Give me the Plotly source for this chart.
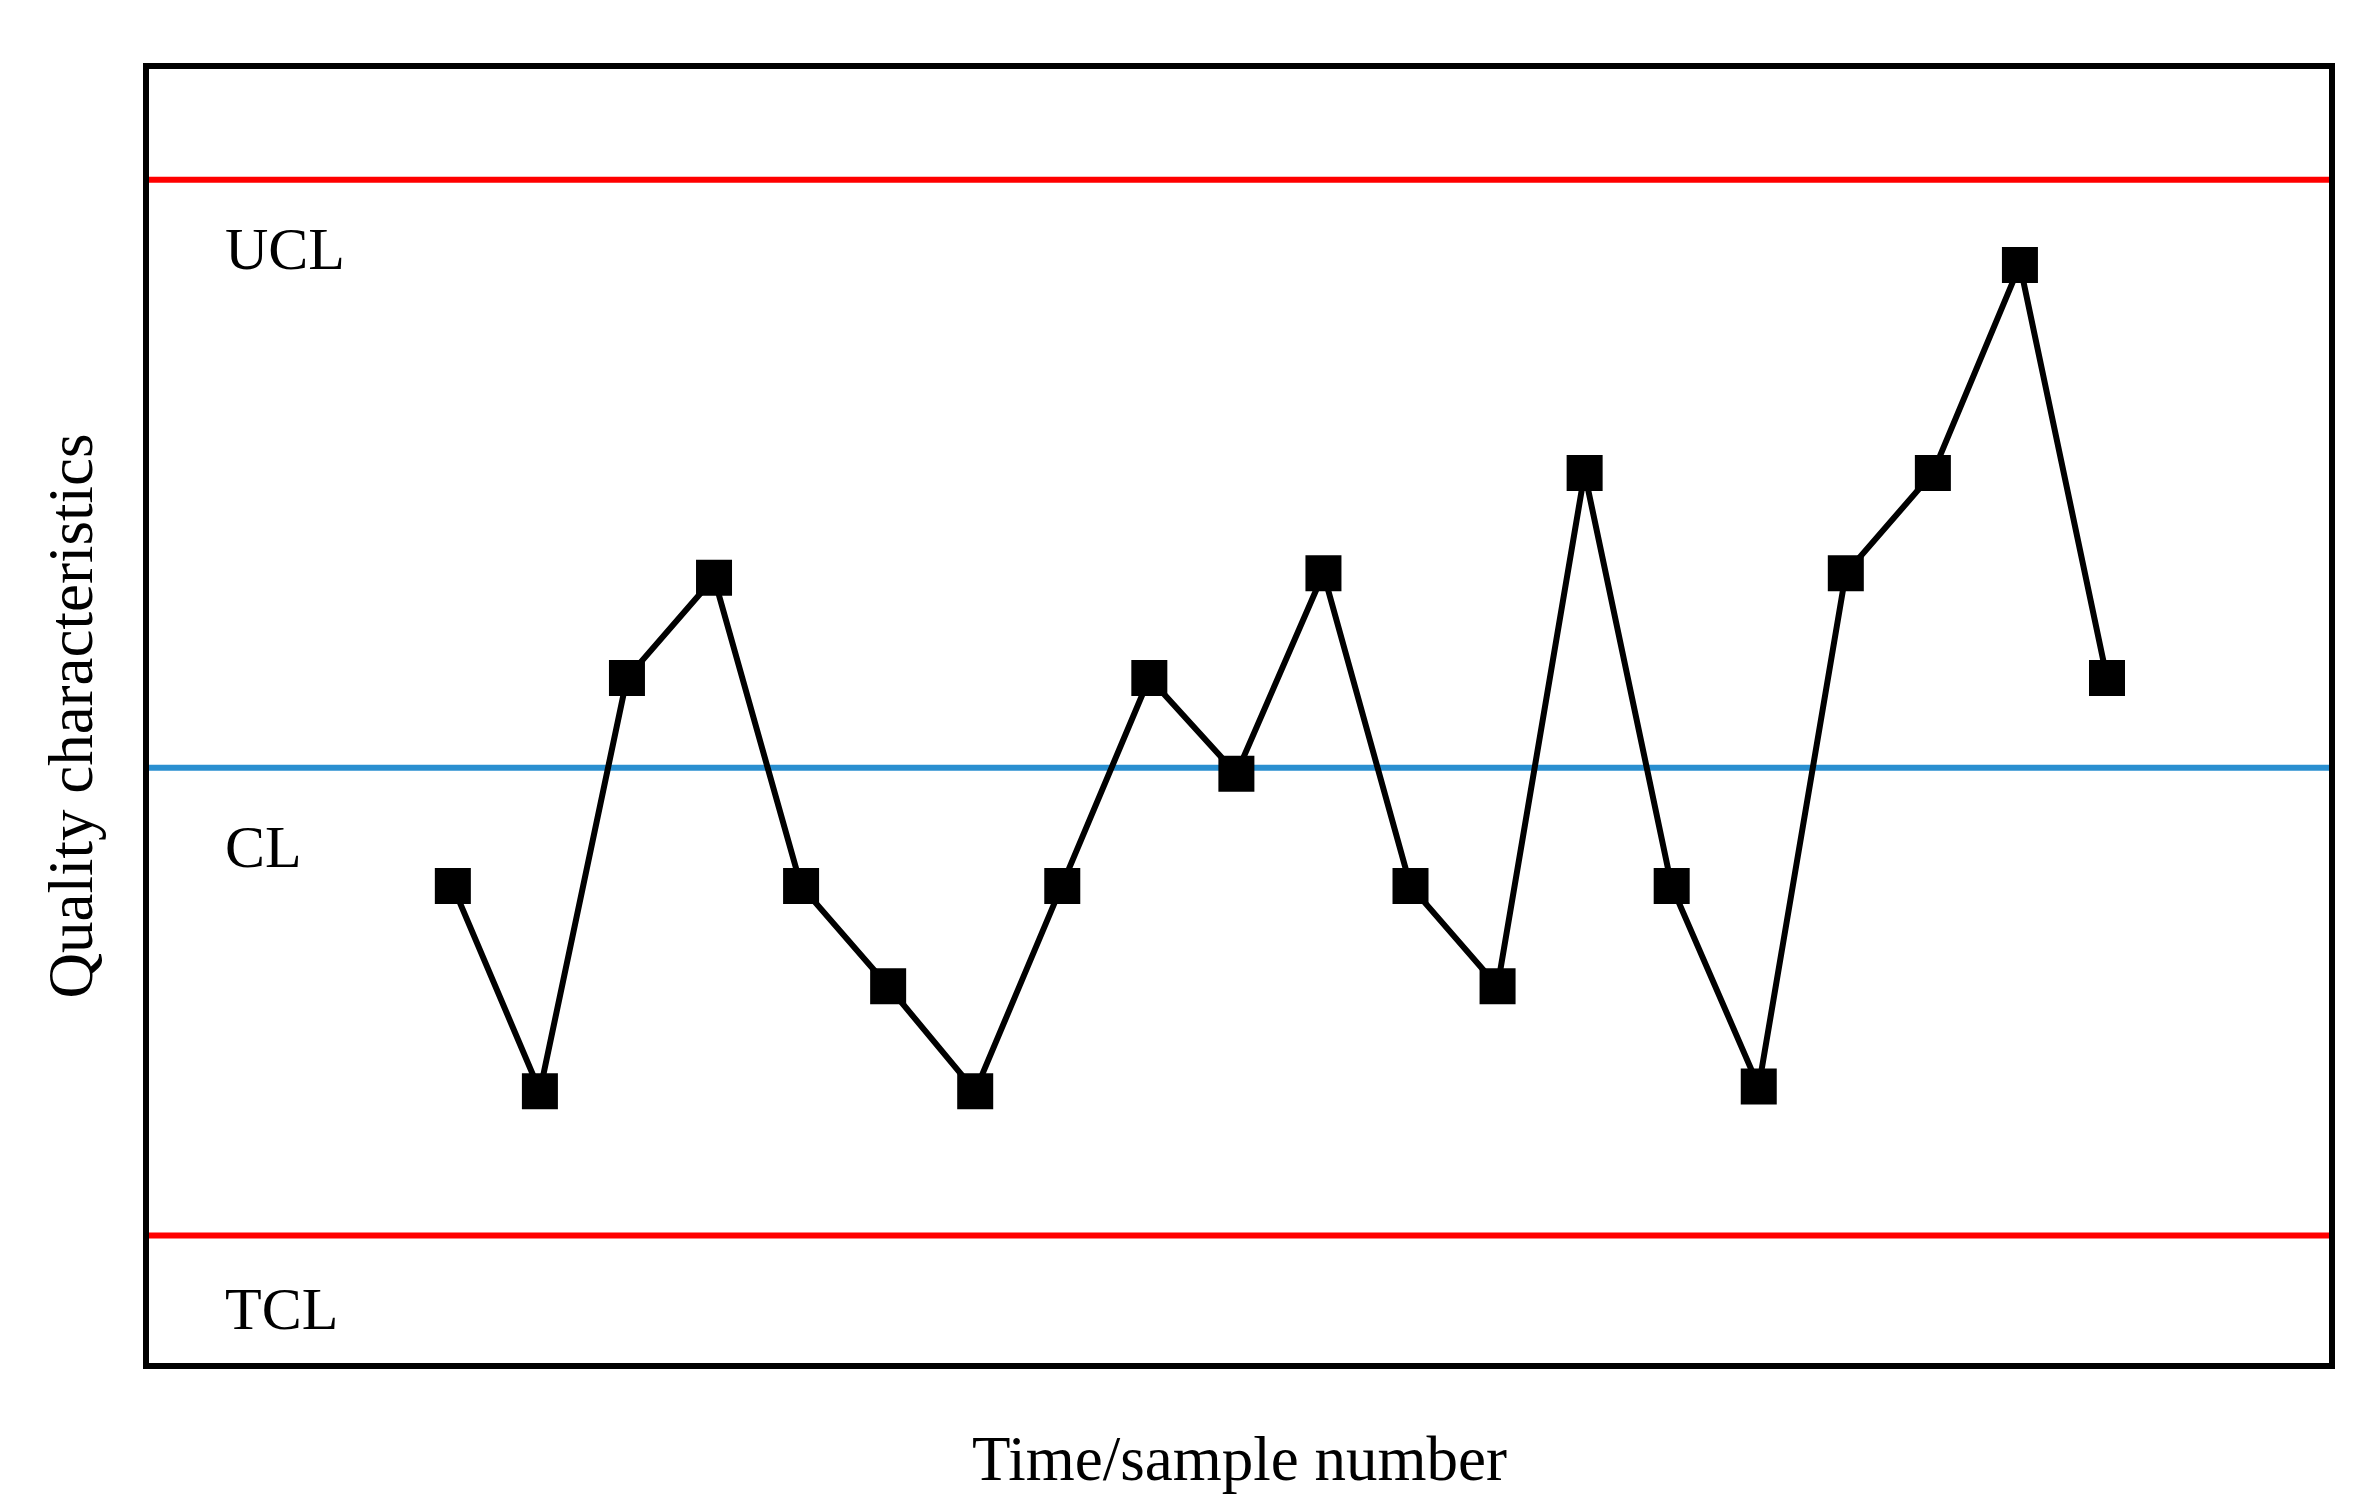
import plotly.graph_objects as go

samples = list(range(1, 21))
values = [-7.8, -21.3, 5.9, 12.5, -7.8, -14.4, -21.3, -7.8, 5.9, -0.4,
          12.8, -7.8, -14.4, 19.4, -7.8, -21.0, 12.8, 19.4, 33.1, 5.9]
ucl, cl, lcl = 38.7, 0.0, -30.8
limit_labels = ["UCL", "CL", "TCL"]
label_y = [0.861, 0.399, 0.042]

fig = go.Figure()
xr = [-2.49, 22.55]
for v, c in [(ucl, "#ff0000"), (cl, "#2a8fd0"), (lcl, "#ff0000")]:
    fig.add_trace(go.Scatter(x=xr, y=[v, v], mode="lines",
                             line=dict(color=c, width=6), hoverinfo="skip"))
fig.add_trace(go.Scatter(x=samples, y=values, mode="lines+markers",
                         line=dict(color="black", width=6),
                         marker=dict(symbol="square", size=36, color="black")))

font = "Liberation Serif, Times New Roman, serif"
for t, y in zip(limit_labels, label_y):
    fig.add_annotation(text=t, xref="paper", yref="paper", x=0.034, y=y,
                       xanchor="left", yanchor="middle", showarrow=False,
                       font=dict(family=font, size=60, color="black"))
fig.add_annotation(text="Time/sample number", xref="paper", yref="paper",
                   x=0.5, y=-0.074, xanchor="center", yanchor="middle",
                   showarrow=False, font=dict(family=font, size=63, color="black"))
fig.add_annotation(text="Quality characteristics", xref="paper", yref="paper",
                   x=-0.036, y=0.5, xanchor="center", yanchor="middle", textangle=-90,
                   showarrow=False, font=dict(family=font, size=63, color="black"))

fig.update_layout(width=2370, height=1494, showlegend=False,
                  paper_bgcolor="white", plot_bgcolor="white",
                  margin=dict(l=141, r=49, t=61, b=139))
fig.update_xaxes(range=xr, showticklabels=False, showgrid=False, zeroline=False,
                 ticks="", showline=True, mirror=True, linecolor="black", linewidth=6)
fig.update_yaxes(range=[-39.2, 46.0], showticklabels=False, showgrid=False, zeroline=False,
                 ticks="", showline=True, mirror=True, linecolor="black", linewidth=6)
fig.write_html("out.html")
